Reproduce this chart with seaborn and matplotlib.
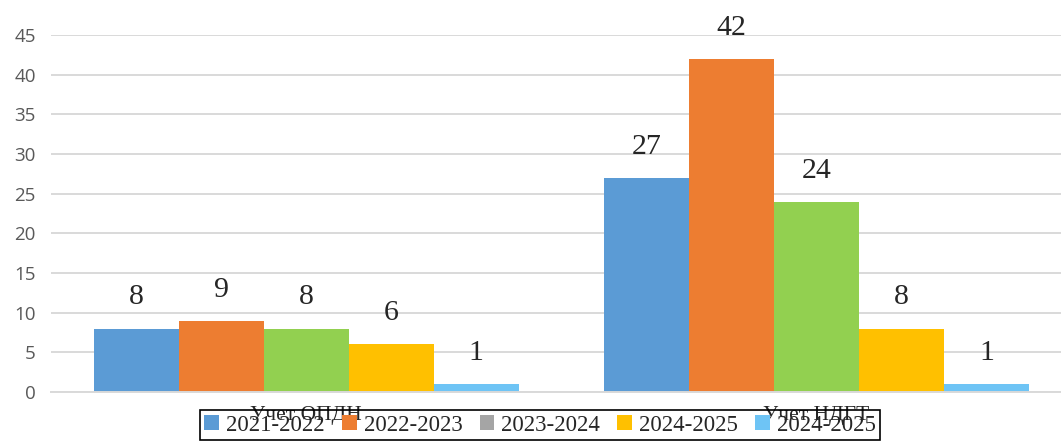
import matplotlib
matplotlib.use("Agg")
import matplotlib.pyplot as plt
from matplotlib.patches import Patch
import pandas as pd
import seaborn as sns

# Data
categories = ["Учет ОПДН", "Учет НДГТ"]
seasons = ["2021-2022", "2022-2023", "2023-2024", "2024-2025", "2025-2026"]
legend_labels = ["2021-2022", "2022-2023", "2023-2024", "2024-2025", "2024-2025"]
values_opdn = [8, 9, 8, 6, 1]
values_ndgt = [27, 42, 24, 8, 1]

bar_colors = ["#5B9BD5", "#ED7D31", "#92D050", "#FFC000", "#6EC4F5"]
legend_colors = ["#5B9BD5", "#ED7D31", "#A5A5A5", "#FFC000", "#6EC4F5"]

df = pd.DataFrame({
    "Категория": [categories[0]] * len(seasons) + [categories[1]] * len(seasons),
    "Год": seasons * 2,
    "Число": values_opdn + values_ndgt,
})

sns.set_style("white")
plt.rcParams["font.family"] = ["Liberation Serif", "DejaVu Serif"]

fig = plt.figure(figsize=(10.61, 4.48), dpi=100)
ax = fig.add_axes([0.048, 0.125, 0.962, 0.797])

sns.barplot(data=df, x="Категория", y="Число", hue="Год", hue_order=seasons,
            palette=bar_colors, width=0.833, saturation=1, linewidth=0,
            ax=ax, legend=False)

for cont in ax.containers:
    ax.bar_label(cont, padding=13, fontsize=21.5, fontfamily="Liberation Serif")

ax.set_xlim(-0.5, 1.5)
ax.set_ylim(0, 45)
ax.set_yticks(range(0, 46, 5))
ax.yaxis.grid(True, color="#D9D9D9", linewidth=1.4)
ax.set_axisbelow(True)
for side in ["top", "right", "left"]:
    ax.spines[side].set_visible(False)
ax.spines["bottom"].set_color("#D9D9D9")
ax.spines["bottom"].set_linewidth(1.4)
ax.tick_params(axis="y", length=0, pad=11, labelsize=13.5, labelcolor="#595959")
for lab in ax.get_yticklabels():
    lab.set_fontfamily("Open Sans")
ax.tick_params(axis="x", length=0, pad=10, labelsize=15.5)
ax.set_xlabel("")
ax.set_ylabel("")

handles = [Patch(facecolor=c, edgecolor="none") for c in legend_colors]
leg = fig.legend(handles, legend_labels, loc="center", bbox_to_anchor=(0.509, 0.051),
                 ncol=5, fontsize=16.5, frameon=True, fancybox=False,
                 handlelength=0.65, handleheight=0.65, handletextpad=0.3,
                 columnspacing=0.75, borderpad=0.2, framealpha=1)
leg.get_frame().set_edgecolor("black")
leg.get_frame().set_linewidth(1.2)
leg.get_frame().set_facecolor("none")

fig.savefig("out.png", dpi=100)
